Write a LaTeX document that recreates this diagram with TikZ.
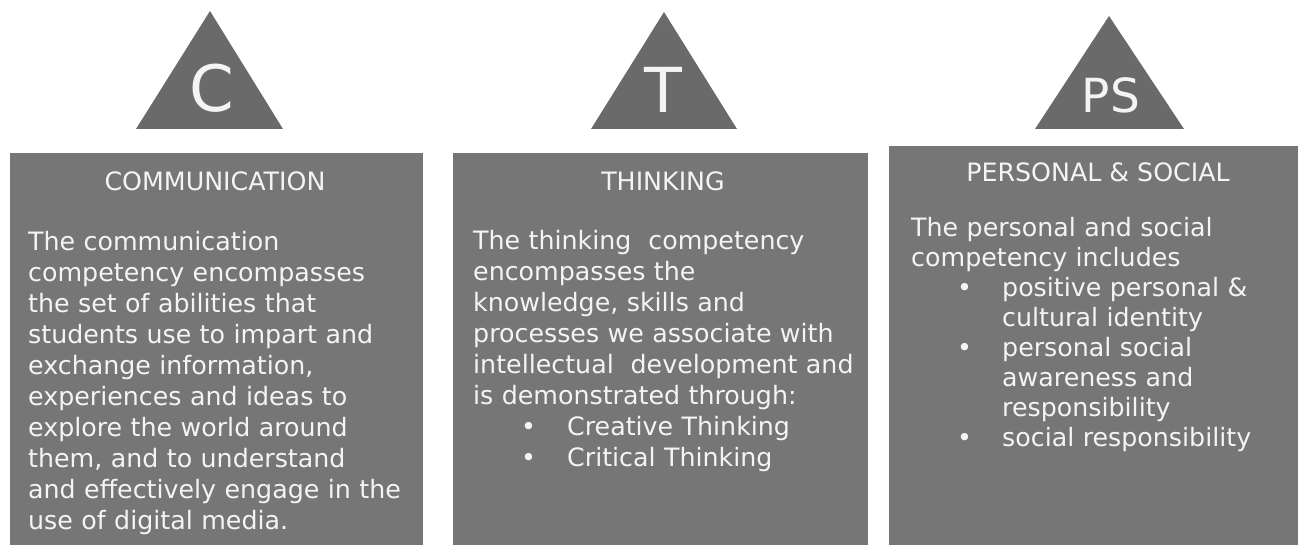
\documentclass[tikz,border=0pt]{standalone}
\usepackage{fontspec}
\setmainfont{DejaVu Sans}
\definecolor{trigray}{RGB}{106,106,106}
\definecolor{boxgray}{RGB}{118,118,118}
\definecolor{txtwhite}{RGB}{244,244,244}
\tikzset{
  tri/.style={fill=trigray, draw=none},
  panel/.style={fill=boxgray, draw=none},
  letter/.style={text=txtwhite, inner sep=0pt, anchor=base},
  heading/.style={text=txtwhite, inner sep=0pt, anchor=base, font=\fontsize{25.3}{30}\selectfont},
  body/.style={text=txtwhite, inner sep=0pt, anchor=base west, align=left, text width=400pt},
}
\newcommand{\bul}[2]{\makebox[#2][l]{\hspace*{#1}\textbullet}}
\begin{document}
\begin{tikzpicture}[x=1pt,y=-1pt]
\useasboundingbox (0,0) rectangle (1301,545);
% triangles
\fill[tri] (210,11) -- (283,129) -- (136,129) -- cycle;
\fill[tri] (664,12) -- (737,129) -- (591,129) -- cycle;
\fill[tri] (1109,16) -- (1184,129) -- (1035,129) -- cycle;
\node[letter, font=\fontsize{64}{64}\selectfont] (lc) at (212,112) {C};
\node[letter, font=\fontsize{62}{62}\selectfont] (lt) at (663,113) {T};
\node[letter, font=\fontsize{47}{47}\selectfont] (lps) at (1111,113) {PS};
% panels
\fill[panel] (10,153) rectangle (423,545);
\fill[panel] (453,153) rectangle (868,545);
\fill[panel] (889,146) rectangle (1298,545);
% headings
\node[heading] (h1) at (215,191) {COMMUNICATION};
\node[heading] (h2) at (663,191) {THINKING};
\node[heading] (h3) at (1098,182) {PERSONAL \& SOCIAL};
% bodies
\node[body, font=\fontsize{25.3}{31}\selectfont] (b1) at (28,251) {%
The communication\\
competency encompasses\\
the set of abilities that\\
students use to impart and\\
exchange information,\\
experiences and ideas to\\
explore the world around\\
them, and to understand\\
and effectively engage in the\\
use of digital media.};
\node[body, font=\fontsize{25.3}{31}\selectfont] (b2) at (473,250) {%
The thinking\ \ competency\\
encompasses the\\
knowledge, skills and\\
processes we associate with\\
intellectual\ \ development and\\
is demonstrated through:\\
\bul{48pt}{94pt}Creative Thinking\\
\bul{48pt}{94pt}Critical Thinking};
\node[body, font=\fontsize{25.3}{30}\selectfont] (b3) at (911,237) {%
The personal and social\\
competency includes\\
\bul{46pt}{91pt}positive personal \&\\
\hspace*{91pt}cultural identity\\
\bul{46pt}{91pt}personal social\\
\hspace*{91pt}awareness and\\
\hspace*{91pt}responsibility\\
\bul{46pt}{91pt}social responsibility};
\end{tikzpicture}
\end{document}
